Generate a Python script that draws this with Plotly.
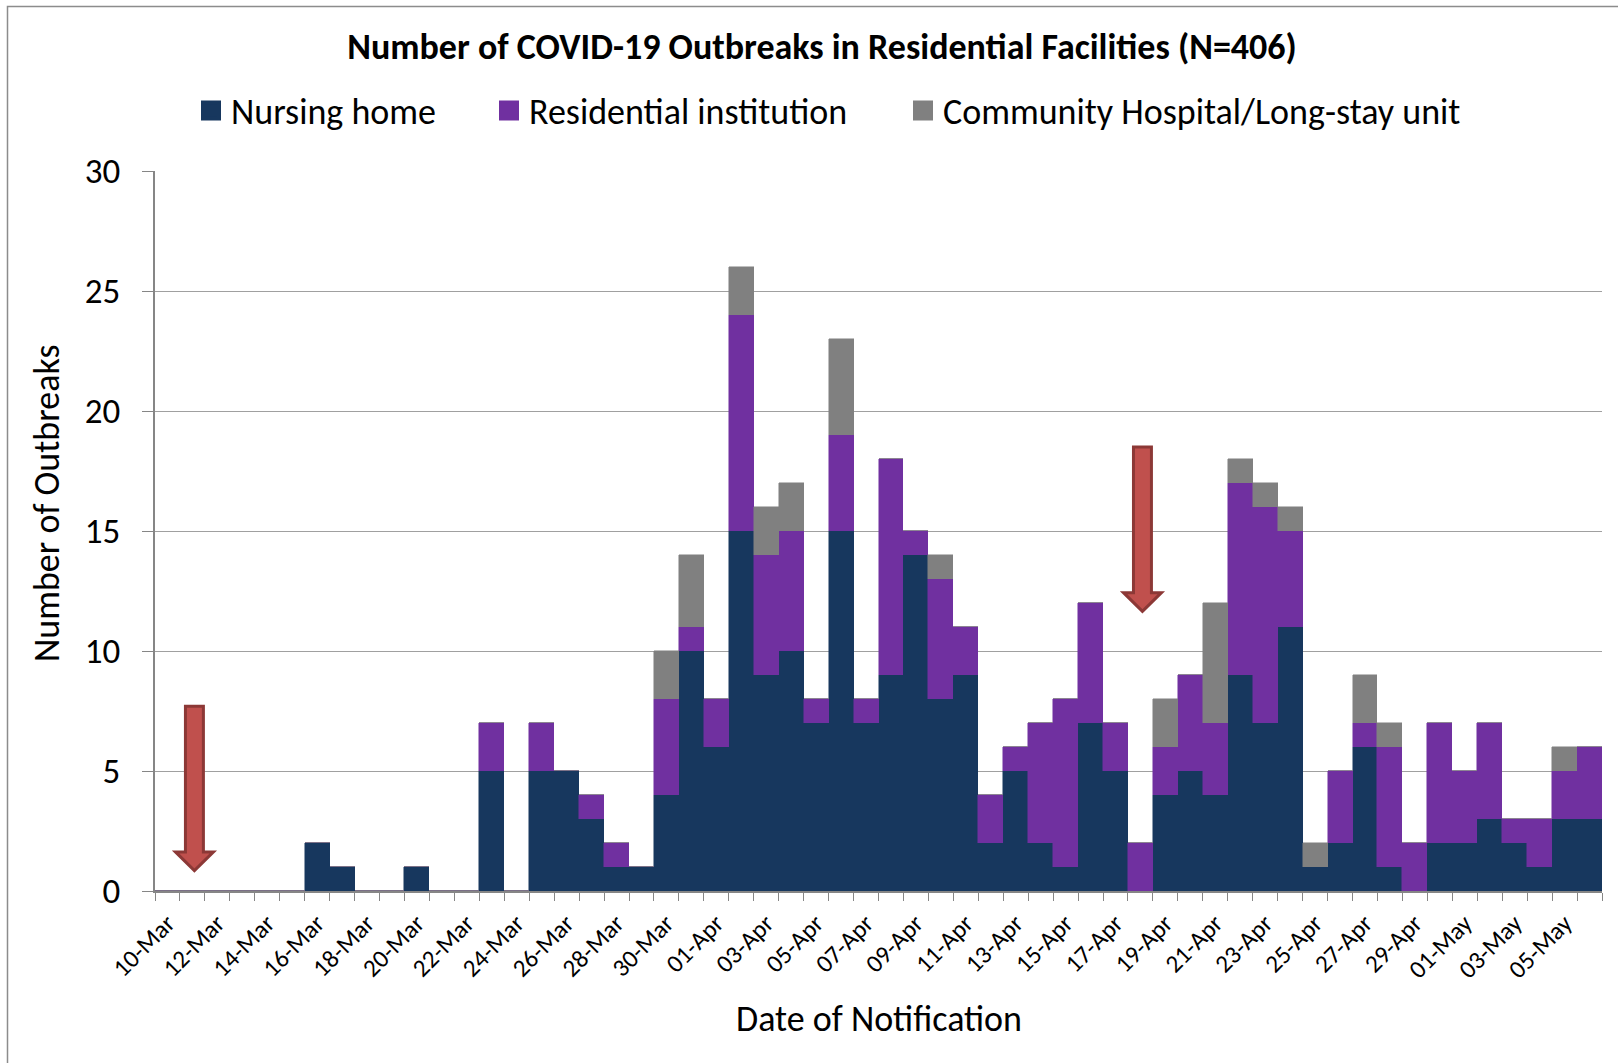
import plotly.graph_objects as go

dates = ["10-Mar", "11-Mar", "12-Mar", "13-Mar", "14-Mar", "15-Mar", "16-Mar", "17-Mar",
         "18-Mar", "19-Mar", "20-Mar", "21-Mar", "22-Mar", "23-Mar", "24-Mar", "25-Mar",
         "26-Mar", "27-Mar", "28-Mar", "29-Mar", "30-Mar", "31-Mar",
         "01-Apr", "02-Apr", "03-Apr", "04-Apr", "05-Apr", "06-Apr", "07-Apr", "08-Apr",
         "09-Apr", "10-Apr", "11-Apr", "12-Apr", "13-Apr", "14-Apr", "15-Apr", "16-Apr",
         "17-Apr", "18-Apr", "19-Apr", "20-Apr", "21-Apr", "22-Apr", "23-Apr", "24-Apr",
         "25-Apr", "26-Apr", "27-Apr", "28-Apr", "29-Apr", "30-Apr",
         "01-May", "02-May", "03-May", "04-May", "05-May", "06-May"]

nursing_home = [0, 0, 0, 0, 0, 0, 2, 1, 0, 0, 1, 0, 0, 5, 0, 5, 5, 3, 1, 1, 4, 10,
                6, 15, 9, 10, 7, 15, 7, 9, 14, 8, 9, 2, 5, 2, 1, 7, 5, 0, 4, 5, 4, 9, 7, 11,
                1, 2, 6, 1, 0, 2, 2, 3, 2, 1, 3, 3]
residential = [0, 0, 0, 0, 0, 0, 0, 0, 0, 0, 0, 0, 0, 2, 0, 2, 0, 1, 1, 0, 4, 1,
               2, 9, 5, 5, 1, 4, 1, 9, 1, 5, 2, 2, 1, 5, 7, 5, 2, 2, 2, 4, 3, 8, 9, 4,
               0, 3, 1, 5, 2, 5, 3, 4, 1, 2, 2, 3]
community = [0, 0, 0, 0, 0, 0, 0, 0, 0, 0, 0, 0, 0, 0, 0, 0, 0, 0, 0, 0, 2, 3,
             0, 2, 2, 2, 0, 4, 0, 0, 0, 1, 0, 0, 0, 0, 0, 0, 0, 0, 2, 0, 5, 1, 1, 1,
             1, 0, 2, 1, 0, 0, 0, 0, 0, 0, 1, 0]

series_names = ["Nursing home", "Residential institution", "Community Hospital/Long-stay unit"]
series_colors = ["#17375E", "#7030A0", "#808080"]

arrow_dates = ["11-Mar", "18-Apr"]
arrow_tops = [7.7, 18.5]
arrow_tips = [0.85, 11.65]

FONT = "Carlito, Lato, 'Liberation Sans', sans-serif"
positions = list(range(len(dates)))

fig = go.Figure()
legend_ids = ["legend", "legend2", "legend3"]
for name, vals, col in zip(series_names, [nursing_home, residential, community], series_colors):
    fig.add_trace(go.Bar(
        x=positions, y=vals, name=name, showlegend=False,
        marker=dict(color=col, line=dict(color=col, width=0.5)),
        hovertemplate="%{text}: %{y}<extra>" + name + "</extra>", text=dates,
        textposition="none",
    ))
# legend entries (larger square keys, like the original)
for name, col, lg in zip(series_names, series_colors, legend_ids):
    fig.add_trace(go.Scatter(
        x=[None], y=[None], mode="markers", name=name, legend=lg, showlegend=True,
        marker=dict(symbol="square", size=16, color=col, line=dict(color=col, width=4)),
        hoverinfo="skip",
    ))

# red block arrows
shapes = []
for d, top, tip in zip(arrow_dates, arrow_tops, arrow_tips):
    xc = dates.index(d) + 0.08
    sw, hw, hl = 0.36, 0.76, 0.78
    path = (f"M {xc - sw},{top} L {xc + sw},{top} L {xc + sw},{tip + hl} "
            f"L {xc + hw},{tip + hl} L {xc},{tip} L {xc - hw},{tip + hl} "
            f"L {xc - sw},{tip + hl} Z")
    shapes.append(dict(type="path", path=path, xref="x", yref="y",
                       fillcolor="#C0504D", line=dict(color="#8C3836", width=3),
                       layer="above"))

# outer chart border
shapes.append(dict(type="rect", xref="paper", yref="paper",
                   x0=(7.5 - 155) / 1447, x1=1.05, y0=-0.3, y1=(891 - 6.5) / 720,
                   line=dict(color="#8C8C8C", width=1.5), fillcolor="rgba(0,0,0,0)",
                   layer="below"))

legend_common = dict(orientation="h", yanchor="middle", y=(891 - 110.5) / 720, xanchor="left",
                     font=dict(family=FONT, size=36, color="#000000"),
                     bgcolor="rgba(0,0,0,0)", borderwidth=0, itemclick=False,
                     itemdoubleclick=False)

fig.update_layout(
    width=1618, height=1063,
    showlegend=True,
    margin=dict(l=155, r=16, t=171, b=172),
    paper_bgcolor="white", plot_bgcolor="white",
    barmode="stack", bargap=0,
    font=dict(family=FONT, color="#000000"),
    title=dict(text="<b>Number of COVID-19 Outbreaks in Residential Facilities (N=406)</b>",
               x=822 / 1618, xref="container", xanchor="center",
               y=1 - 46 / 1063, yref="container", yanchor="middle",
               font=dict(family=FONT, size=36, color="#000000")),
    legend=dict(legend_common, x=(191 - 155) / 1447),
    legend2=dict(legend_common, x=(489 - 155) / 1447),
    legend3=dict(legend_common, x=(903 - 155) / 1447),
    xaxis=dict(
        range=[-0.5, len(dates) - 0.5],
        tickmode="array", tickvals=positions[::2], ticktext=dates[::2],
        tickangle=-45, ticks="", showgrid=False, zeroline=False,
        showline=True, linecolor="#868686", linewidth=1.5,
        tickfont=dict(family=FONT, size=25, color="#000000"),
        ticklabelstandoff=6,
        minor=dict(tickmode="linear", tick0=-0.5, dtick=1, ticks="outside",
                   ticklen=8, tickwidth=1.3, tickcolor="#868686", showgrid=False),
    ),
    yaxis=dict(
        range=[0, 30], dtick=5, tick0=0,
        showgrid=True, gridcolor="#A0A0A0", gridwidth=1.3,
        zeroline=False, showline=True, linecolor="#868686", linewidth=1.5,
        ticks="outside", ticklen=11, tickwidth=1.3, tickcolor="#868686",
        tickfont=dict(family=FONT, size=35, color="#000000"),
        ticklabelstandoff=15,
    ),
    shapes=shapes,
    annotations=[
        dict(text="Date of Notification", xref="paper", yref="paper",
             x=0.5, y=(891 - 1019) / 720, xanchor="center", yanchor="middle",
             showarrow=False, font=dict(family=FONT, size=36, color="#000000")),
        dict(text="Number of Outbreaks", xref="paper", yref="paper",
             x=(47 - 155) / 1447, y=(891 - 503) / 720, xanchor="center", yanchor="middle",
             textangle=-90, showarrow=False,
             font=dict(family=FONT, size=36, color="#000000")),
    ],
)

fig.write_html("out.html", config={"displayModeBar": False},
               post_script="document.body.style.margin='0px';")
